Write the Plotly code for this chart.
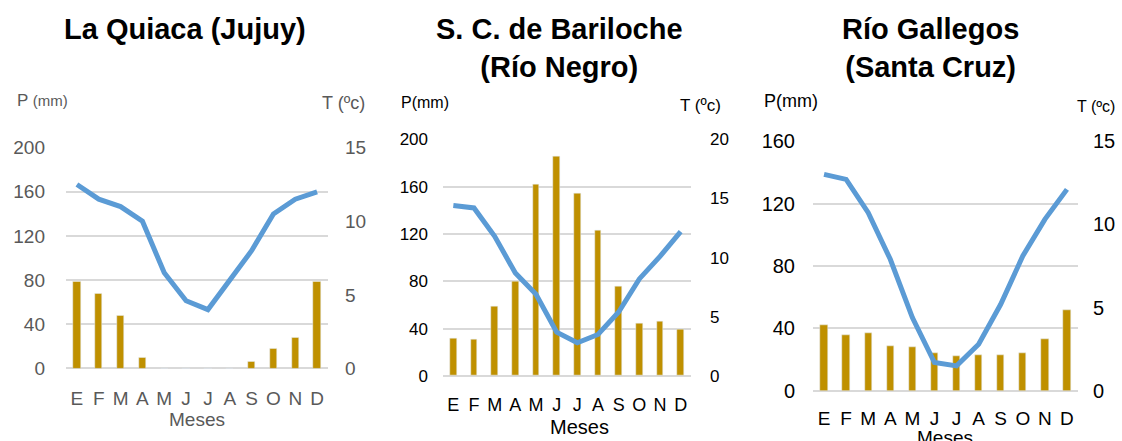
import plotly.graph_objects as go

months = ["E", "F", "M", "A", "M", "J", "J", "A", "S", "O", "N", "D"]

titles = ["La Quiaca (Jujuy)", "S. C. de Bariloche<br>(Río Negro)", "Río Gallegos<br>(Santa Cruz)"]

precip_quiaca = [79, 68, 48, 10, 0, 0, 0, 0, 6, 18, 28, 79]
temp_quiaca = [12.5, 11.5, 11.0, 10.0, 6.5, 4.6, 4.0, 6.0, 8.0, 10.5, 11.5, 12.0]

precip_bariloche = [32, 31, 59, 80, 162, 186, 154, 123, 76, 44, 46, 39]
temp_bariloche = [14.4, 14.2, 11.8, 8.7, 6.9, 3.7, 2.8, 3.5, 5.4, 8.2, 10.1, 12.2]

precip_gallegos = [42, 36, 37, 29, 28, 24, 22, 23, 23, 24, 33, 52]
temp_gallegos = [13.0, 12.7, 10.7, 7.9, 4.4, 1.7, 1.5, 2.8, 5.2, 8.1, 10.3, 12.1]

p_ticks = [[0, 40, 80, 120, 160, 200], [0, 40, 80, 120, 160, 200], [0, 40, 80, 120, 160]]
t_ticks = [[0, 5, 10, 15], [0, 5, 10, 15, 20], [0, 5, 10, 15]]
p_max = [200, 200, 160]
t_max = [15, 20, 15]

precips = [precip_quiaca, precip_bariloche, precip_gallegos]
temps = [temp_quiaca, temp_bariloche, temp_gallegos]

W, H = 1122, 441
FONT = "Liberation Sans, Arial, sans-serif"
BAR_COLOR = "#BF9000"
LINE_COLOR = "#5B9BD5"
GRID = "#D9D9D9"

# vertical compensation for the capture (observed: screen_y = 0.951 * y + 11.5)
SY_A, SY_B = 0.951, 11.5


def fy(y_screen):
    """paper fraction for a wanted screen y position"""
    return 1 - ((y_screen - SY_B) / SY_A) / H


# plot area in pixels: (left, right, top, bottom)
areas = [(66, 328, 148.3, 369.3), (443, 691, 140, 376.7), (813, 1078, 141.7, 391.7)]
tick_colors = ["#595959", "#000000", "#000000"]
tick_sizes = [19, 17, 20]
month_sizes = [19, 18, 19]
x_standoff = [17, 16, 14]
yl_standoff = [20, 14, 17]
yr_standoff = [16, 18, 14]

fig = go.Figure()
xidx = list(range(len(months)))

for i in range(3):
    l, r, t, b = areas[i]
    xa = "x" if i == 0 else f"x{i+1}"
    ya_l = "y" if i == 0 else f"y{2*i+1}"
    ya_r = f"y{2*i+2}"
    fig.add_trace(go.Bar(x=xidx, y=precips[i], marker_color=BAR_COLOR, width=0.33,
                         xaxis=xa, yaxis=ya_l, showlegend=False))
    fig.add_trace(go.Scatter(x=xidx, y=temps[i], mode="lines",
                             line=dict(color=LINE_COLOR, width=5),
                             xaxis=xa, yaxis=ya_r, showlegend=False))
    xkey = "xaxis" if i == 0 else f"xaxis{i+1}"
    ykey_l = "yaxis" if i == 0 else f"yaxis{2*i+1}"
    ykey_r = f"yaxis{2*i+2}"
    dom_x = [l / W, r / W]
    dom_y = [fy(b), fy(t)]
    fig.layout[xkey] = dict(domain=dom_x, anchor=ya_l, range=[-0.5, 11.5],
                            tickmode="array", tickvals=xidx, ticktext=months,
                            showgrid=False, zeroline=False, showline=False, ticks="",
                            ticklabelstandoff=x_standoff[i],
                            tickfont=dict(family=FONT, size=month_sizes[i], color=tick_colors[i]),
                            fixedrange=True)
    fig.layout[ykey_l] = dict(domain=dom_y, anchor=xa, range=[0, p_max[i]],
                              tickmode="array", tickvals=p_ticks[i],
                              showgrid=True, gridcolor=GRID, gridwidth=1.5,
                              zeroline=True, zerolinecolor=GRID, zerolinewidth=1.5,
                              showline=False, ticks="", ticklabelstandoff=yl_standoff[i],
                              tickfont=dict(family=FONT, size=tick_sizes[i], color=tick_colors[i]))
    fig.layout[ykey_r] = dict(overlaying=ya_l, anchor=xa, side="right", range=[0, t_max[i]],
                              tickmode="array", tickvals=t_ticks[i],
                              showgrid=False, zeroline=False, showline=False, ticks="",
                              ticklabelstandoff=yr_standoff[i],
                              tickfont=dict(family=FONT, size=tick_sizes[i], color=tick_colors[i]))

annotations = []
title_pos = [(185, 30), (559, 49), (931, 49)]
for i in range(3):
    x, y = title_pos[i]
    annotations.append(dict(text="<b>" + titles[i] + "</b>", x=x / W, y=fy(y),
                            xref="paper", yref="paper", showarrow=False,
                            xanchor="center", yanchor="middle",
                            font=dict(family=FONT, size=29, color="black")))

# axis titles
p_labels = ["P <span style='font-size:15px'>(mm)</span>", "P(mm)", "P(mm)"]
p_pos = [(15, 101), (399, 103), (762, 102)]
p_sizes = [17, 16, 18]
t_pos = [(367, 104), (723, 106), (1117, 107)]
t_sizes = [18, 17, 16]
meses_pos = [(197, 420), (579, 428), (945, 438)]
meses_sizes = [19, 20, 19]
for i in range(3):
    x, y = p_pos[i]
    annotations.append(dict(text=p_labels[i], x=x / W, y=fy(y), xref="paper", yref="paper",
                            showarrow=False, xanchor="left", yanchor="middle",
                            font=dict(family=FONT, size=p_sizes[i], color=tick_colors[i])))
    x, y = t_pos[i]
    annotations.append(dict(text="T (ºc)", x=x / W, y=fy(y), xref="paper", yref="paper",
                            showarrow=False, xanchor="right", yanchor="middle",
                            font=dict(family=FONT, size=t_sizes[i], color=tick_colors[i])))
    x, y = meses_pos[i]
    annotations.append(dict(text="Meses", x=x / W, y=fy(y), xref="paper", yref="paper",
                            showarrow=False, xanchor="center", yanchor="middle",
                            font=dict(family=FONT, size=meses_sizes[i], color=tick_colors[i])))

fig.update_layout(width=W, height=H, margin=dict(l=0, r=0, t=0, b=0),
                  paper_bgcolor="white", plot_bgcolor="white",
                  annotations=annotations, bargap=0, showlegend=False)

fig.write_html("out.html", config={"displayModeBar": False},
               post_script="document.body.style.margin='0';document.body.style.overflow='hidden';")
